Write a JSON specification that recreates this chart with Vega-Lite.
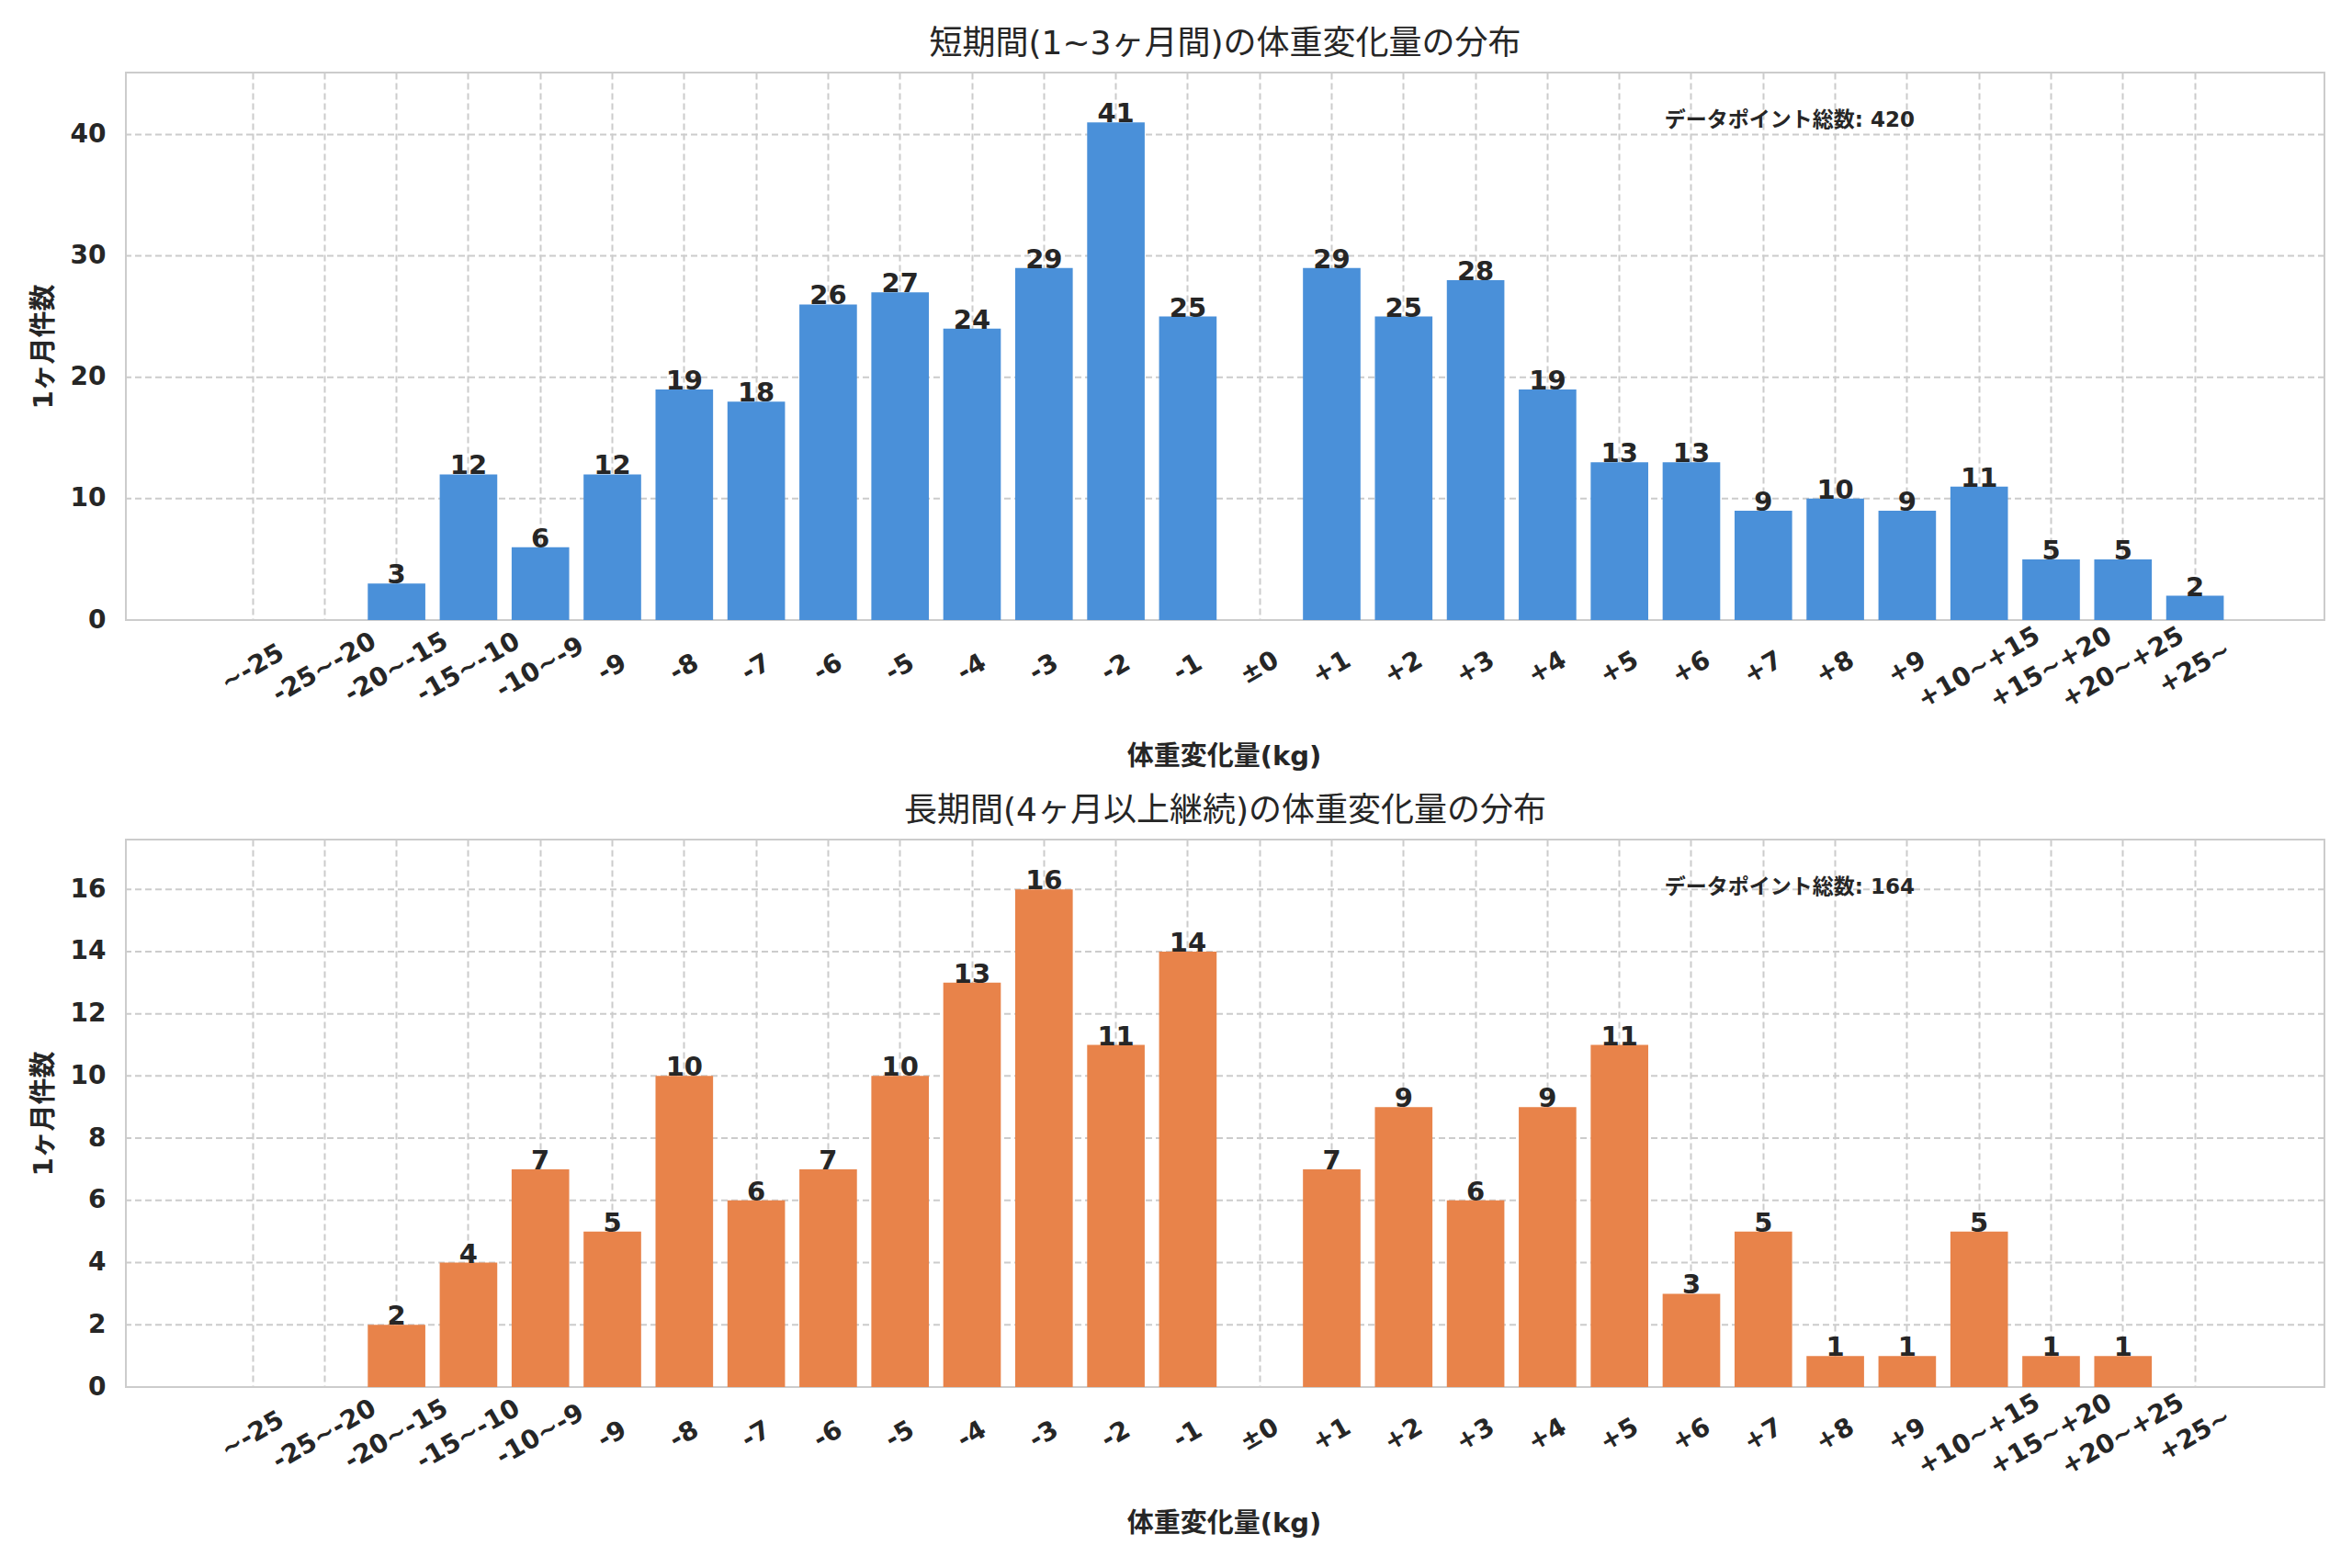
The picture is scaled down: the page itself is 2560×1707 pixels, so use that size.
{
  "$schema": "https://vega.github.io/schema/vega-lite/v6.json",
  "background": "white",
  "padding": {"left": 32, "top": 29, "right": 10, "bottom": 10},
  "config": {
    "font": "DejaVu Sans, Noto Sans CJK JP",
    "view": {"stroke": "#cccccc", "strokeWidth": 2},
    "concat": {"spacing": 24},
    "title": {"fontSize": 36, "fontWeight": "normal", "color": "#262626", "offset": 12},
    "axis": {
      "grid": true,
      "gridColor": "#cccccc",
      "gridDash": [7, 4],
      "gridWidth": 2,
      "ticks": false,
      "domain": false,
      "labelFontSize": 28,
      "labelFontWeight": "bold",
      "labelColor": "#262626",
      "titleFontSize": 29,
      "titleFontWeight": "bold",
      "titleColor": "#262626"
    },
    "axisX": {
      "bandPosition": 0.5,
      "labelAngle": -30,
      "labelAlign": "center",
      "labelBaseline": "middle",
      "labelPadding": 52,
      "titlePadding": 33
    },
    "axisY": {"grid": false, "labelPadding": 22, "titlePadding": 14}
  },
  "datasets": {
    "short": [
      {"range": "~-25", "count": 0},
      {"range": "-25~-20", "count": 0},
      {"range": "-20~-15", "count": 3},
      {"range": "-15~-10", "count": 12},
      {"range": "-10~-9", "count": 6},
      {"range": "-9", "count": 12},
      {"range": "-8", "count": 19},
      {"range": "-7", "count": 18},
      {"range": "-6", "count": 26},
      {"range": "-5", "count": 27},
      {"range": "-4", "count": 24},
      {"range": "-3", "count": 29},
      {"range": "-2", "count": 41},
      {"range": "-1", "count": 25},
      {"range": "±0", "count": 0},
      {"range": "+1", "count": 29},
      {"range": "+2", "count": 25},
      {"range": "+3", "count": 28},
      {"range": "+4", "count": 19},
      {"range": "+5", "count": 13},
      {"range": "+6", "count": 13},
      {"range": "+7", "count": 9},
      {"range": "+8", "count": 10},
      {"range": "+9", "count": 9},
      {"range": "+10~+15", "count": 11},
      {"range": "+15~+20", "count": 5},
      {"range": "+20~+25", "count": 5},
      {"range": "+25~", "count": 2}
    ],
    "long": [
      {"range": "~-25", "count": 0},
      {"range": "-25~-20", "count": 0},
      {"range": "-20~-15", "count": 2},
      {"range": "-15~-10", "count": 4},
      {"range": "-10~-9", "count": 7},
      {"range": "-9", "count": 5},
      {"range": "-8", "count": 10},
      {"range": "-7", "count": 6},
      {"range": "-6", "count": 7},
      {"range": "-5", "count": 10},
      {"range": "-4", "count": 13},
      {"range": "-3", "count": 16},
      {"range": "-2", "count": 11},
      {"range": "-1", "count": 14},
      {"range": "±0", "count": 0},
      {"range": "+1", "count": 7},
      {"range": "+2", "count": 9},
      {"range": "+3", "count": 6},
      {"range": "+4", "count": 9},
      {"range": "+5", "count": 11},
      {"range": "+6", "count": 3},
      {"range": "+7", "count": 5},
      {"range": "+8", "count": 1},
      {"range": "+9", "count": 1},
      {"range": "+10~+15", "count": 5},
      {"range": "+15~+20", "count": 1},
      {"range": "+20~+25", "count": 1},
      {"range": "+25~", "count": 0}
    ],
    "grid_short": [{"v": 0}, {"v": 10}, {"v": 20}, {"v": 30}, {"v": 40}],
    "grid_long": [{"v": 0}, {"v": 2}, {"v": 4}, {"v": 6}, {"v": 8}, {"v": 10}, {"v": 12}, {"v": 14}, {"v": 16}],
    "note_short": [{"label": "データポイント総数: 420"}],
    "note_long": [{"label": "データポイント総数: 164"}]
  },
  "vconcat": [
    {
      "width": 2393,
      "height": 596,
      "title": "短期間(1~3ヶ月間)の体重変化量の分布",
      "layer": [
        {
          "data": {"name": "grid_short"},
          "mark": {"type": "rule", "color": "#cccccc", "strokeWidth": 2, "strokeDash": [7, 4]},
          "encoding": {
            "y": {
              "field": "v",
              "type": "quantitative",
              "title": "1ヶ月件数",
              "scale": {"domain": [0, 45.1], "nice": false},
              "axis": {"values": [0, 10, 20, 30, 40]}
            }
          }
        },
        {
          "data": {"name": "short"},
          "mark": {"type": "bar", "color": "#4a90d9"},
          "encoding": {
            "x": {
              "field": "range",
              "type": "nominal",
              "title": "体重変化量(kg)",
              "scale": {
                "type": "band",
                "domain": ["~-25", "-25~-20", "-20~-15", "-15~-10", "-10~-9", "-9", "-8", "-7", "-6", "-5", "-4", "-3", "-2", "-1", "±0", "+1", "+2", "+3", "+4", "+5", "+6", "+7", "+8", "+9", "+10~+15", "+15~+20", "+20~+25", "+25~"],
                "range": [106.7, 2283.4],
                "paddingInner": 0.2,
                "paddingOuter": 0
              }
            },
            "y": {"field": "count", "type": "quantitative"}
          }
        },
        {
          "data": {"name": "short"},
          "transform": [{"filter": "datum.count > 0"}],
          "mark": {"type": "text", "baseline": "alphabetic", "fontSize": 29, "fontWeight": "bold", "color": "#262626"},
          "encoding": {
            "x": {"field": "range", "type": "nominal"},
            "y": {"field": "count", "type": "quantitative"},
            "text": {"field": "count", "type": "quantitative"}
          }
        },
        {
          "data": {"name": "note_short"},
          "mark": {"type": "text", "align": "left", "baseline": "top", "dx": 49, "fontSize": 23, "fontWeight": "bold", "color": "#262626"},
          "encoding": {
            "x": {"datum": "+5", "type": "nominal"},
            "y": {"datum": 41.98, "type": "quantitative"},
            "text": {"field": "label", "type": "nominal"}
          }
        }
      ]
    },
    {
      "width": 2393,
      "height": 596,
      "title": "長期間(4ヶ月以上継続)の体重変化量の分布",
      "layer": [
        {
          "data": {"name": "grid_long"},
          "mark": {"type": "rule", "color": "#cccccc", "strokeWidth": 2, "strokeDash": [7, 4]},
          "encoding": {
            "y": {
              "field": "v",
              "type": "quantitative",
              "title": "1ヶ月件数",
              "scale": {"domain": [0, 17.6], "nice": false},
              "axis": {"values": [0, 2, 4, 6, 8, 10, 12, 14, 16]}
            }
          }
        },
        {
          "data": {"name": "long"},
          "mark": {"type": "bar", "color": "#e8834a"},
          "encoding": {
            "x": {
              "field": "range",
              "type": "nominal",
              "title": "体重変化量(kg)",
              "scale": {
                "type": "band",
                "domain": ["~-25", "-25~-20", "-20~-15", "-15~-10", "-10~-9", "-9", "-8", "-7", "-6", "-5", "-4", "-3", "-2", "-1", "±0", "+1", "+2", "+3", "+4", "+5", "+6", "+7", "+8", "+9", "+10~+15", "+15~+20", "+20~+25", "+25~"],
                "range": [106.7, 2283.4],
                "paddingInner": 0.2,
                "paddingOuter": 0
              }
            },
            "y": {"field": "count", "type": "quantitative"}
          }
        },
        {
          "data": {"name": "long"},
          "transform": [{"filter": "datum.count > 0"}],
          "mark": {"type": "text", "baseline": "alphabetic", "fontSize": 29, "fontWeight": "bold", "color": "#262626"},
          "encoding": {
            "x": {"field": "range", "type": "nominal"},
            "y": {"field": "count", "type": "quantitative"},
            "text": {"field": "count", "type": "quantitative"}
          }
        },
        {
          "data": {"name": "note_long"},
          "mark": {"type": "text", "align": "left", "baseline": "top", "dx": 49, "fontSize": 23, "fontWeight": "bold", "color": "#262626"},
          "encoding": {
            "x": {"datum": "+5", "type": "nominal"},
            "y": {"datum": 16.38, "type": "quantitative"},
            "text": {"field": "label", "type": "nominal"}
          }
        }
      ]
    }
  ]
}
